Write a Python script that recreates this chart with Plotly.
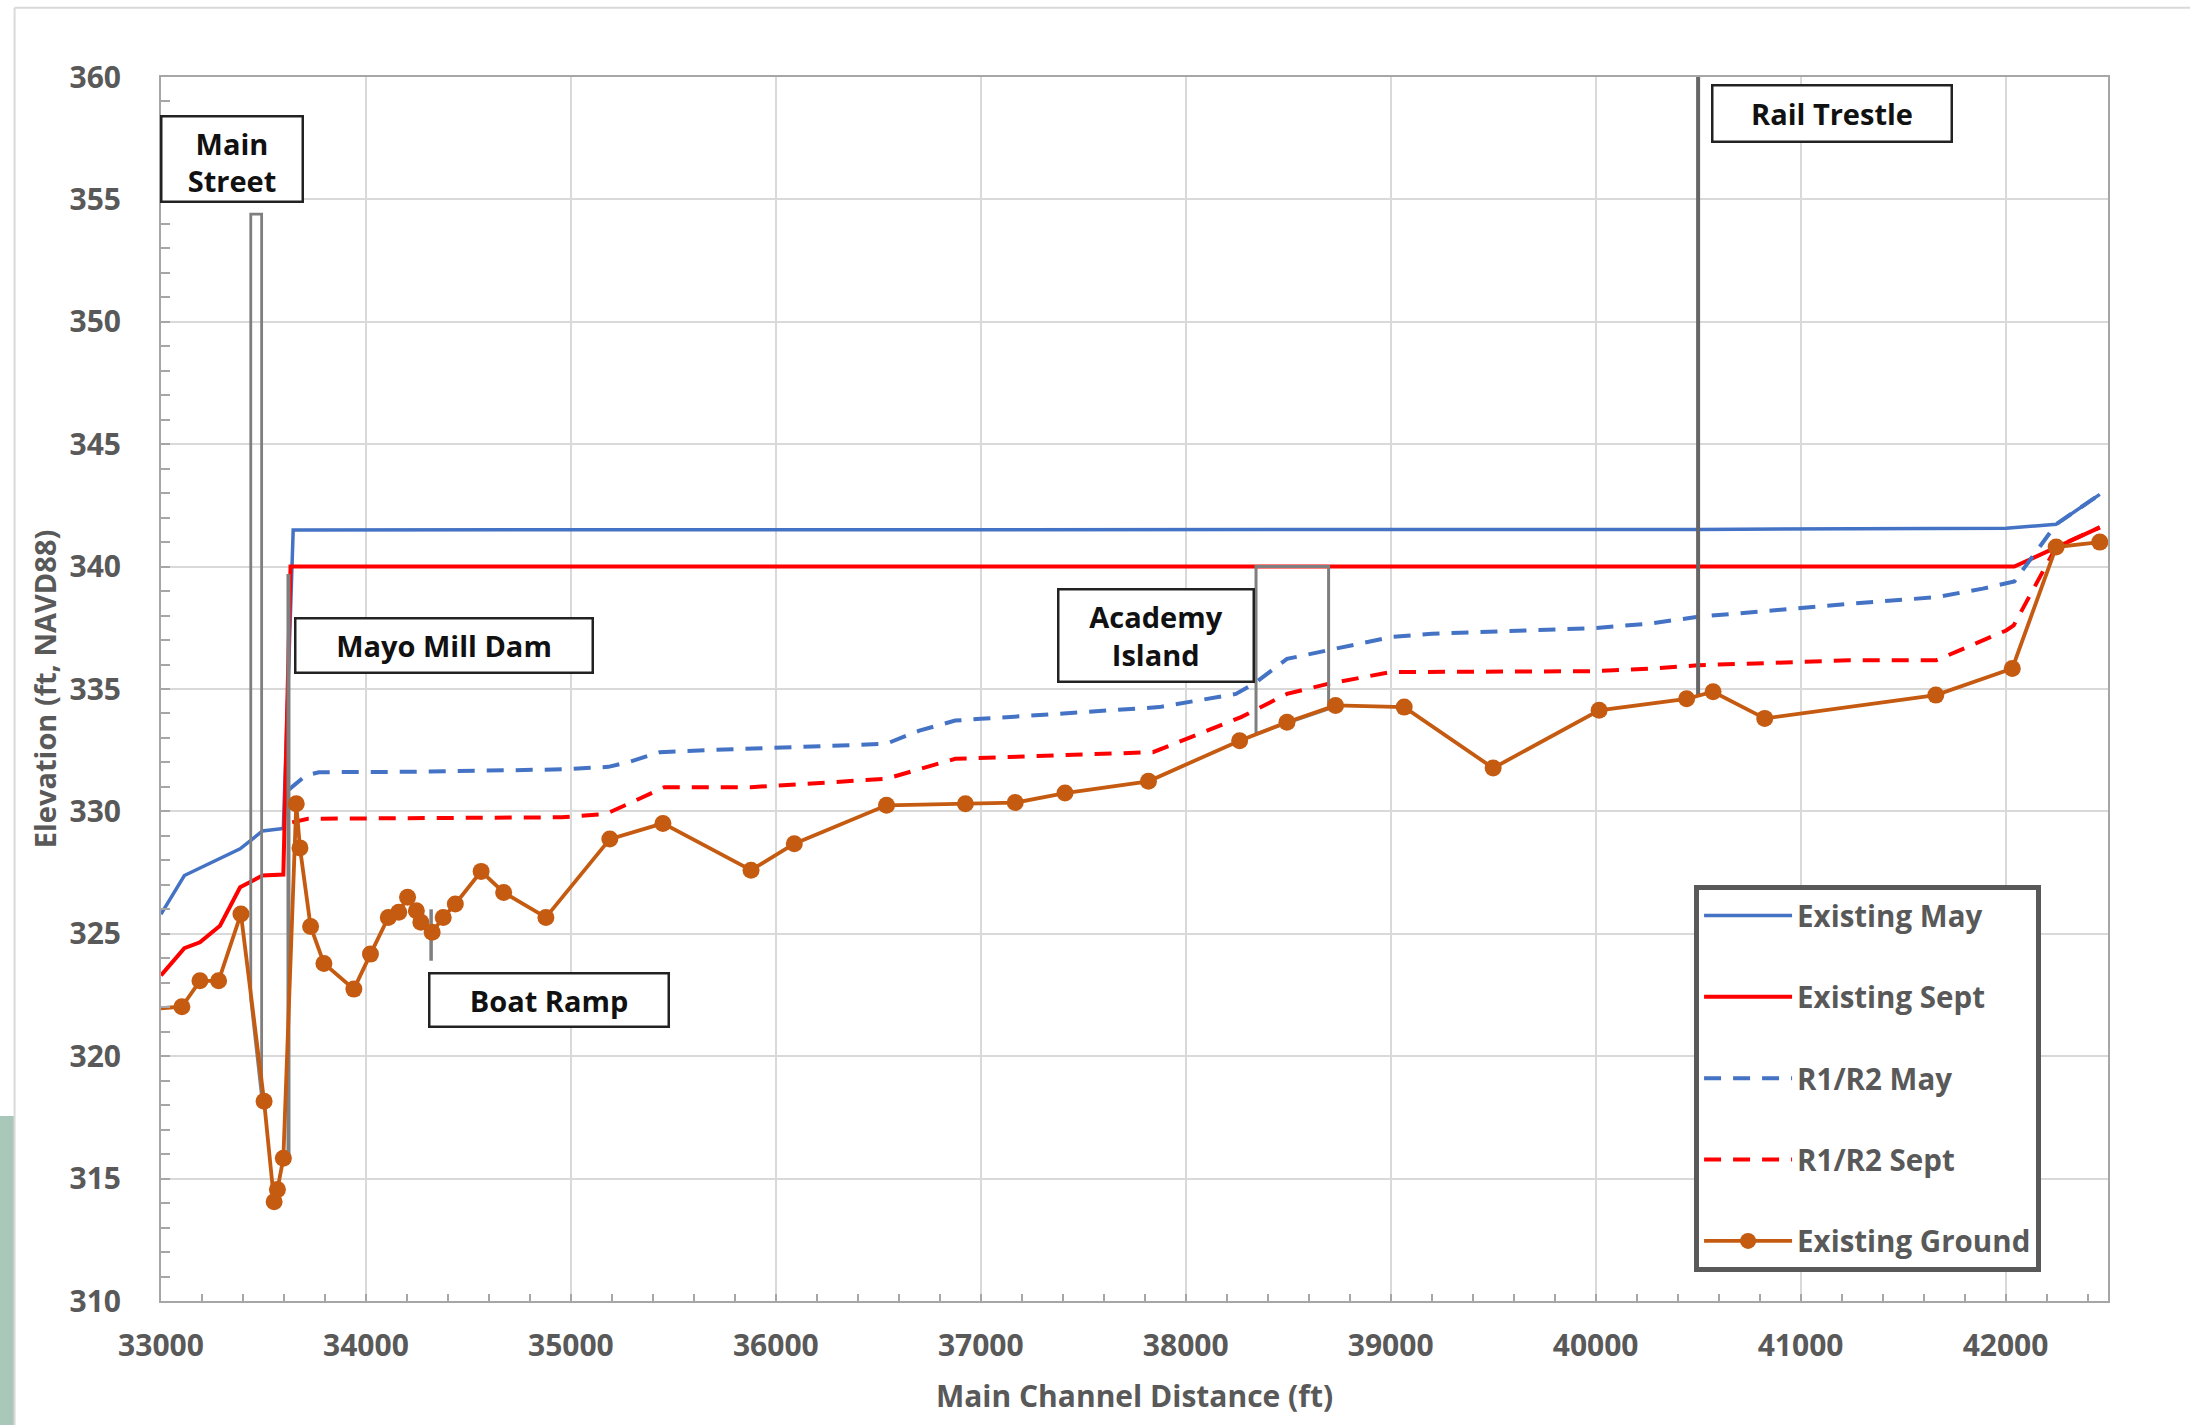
import plotly.graph_objects as go

# ---------------------------------------------------------------
# Profile data: main channel stationing (ft) vs elevation (ft, NAVD88)
# ---------------------------------------------------------------
existing_may_x = [33000, 33114, 33386, 33495, 33597, 33645, 40500, 41700, 42003, 42247, 42460]
existing_may_y = [325.8, 327.38, 328.47, 329.2, 329.3, 341.5, 341.52, 341.55, 341.57, 341.73, 342.95]

existing_sept_x = [33000, 33114, 33190, 33288, 33386, 33495, 33597, 33632, 42043, 42247, 42460]
existing_sept_y = [323.3, 324.41, 324.65, 325.33, 326.9, 327.38, 327.42, 340.0, 340.0, 340.8, 341.6]

r1r2_may_x = [33625, 33706, 33771, 34259, 34976, 35183, 35281, 35434, 35626, 36538, 36700,
              36875, 37000, 37871, 38245, 38332, 38494, 38718, 39000, 39201, 40000, 40262,
              40500, 41238, 41498, 41661, 41889, 42043, 42247, 42460]
r1r2_may_y = [330.9, 331.46, 331.6, 331.62, 331.72, 331.82, 332.01, 332.42, 332.49, 332.76, 333.3,
              333.71, 333.78, 334.26, 334.8, 335.21, 336.23, 336.64, 337.12, 337.26, 337.49, 337.67,
              337.95, 338.48, 338.66, 338.75, 339.1, 339.39, 341.73, 342.95]

r1r2_sept_x = [33640, 33717, 34954, 35172, 35281, 35456, 35879, 36539, 36875, 37840, 38270,
               38494, 38693, 39000, 40000, 40262, 40500, 41238, 41661, 42003, 42040, 42247, 42460]
r1r2_sept_y = [329.55, 329.7, 329.76, 329.9, 330.31, 330.99, 330.99, 331.33, 332.15, 332.42, 333.85,
               334.8, 335.21, 335.69, 335.73, 335.83, 335.97, 336.17, 336.17, 337.39, 337.6, 340.8, 341.6]

ground_x = [32900, 33102, 33190, 33281, 33390, 33503, 33552, 33568, 33597, 33660, 33678,
            33730, 33795, 33941, 34022, 34109, 34160, 34203, 34246, 34268, 34323, 34377,
            34436, 34562, 34672, 34878, 35190, 35449, 35879, 36090, 36540, 36925, 37168,
            37411, 37818, 38263, 38494, 38731, 39066, 39500, 40017, 40444, 40573, 40825,
            41660, 42033, 42247, 42460]
ground_y = [321.9, 322.02, 323.08, 323.08, 325.81, 318.16, 314.05, 314.55, 315.83, 330.31, 328.51,
            325.3, 323.79, 322.74, 324.17, 325.67, 325.88, 326.49, 325.94, 325.47, 325.06, 325.67,
            326.22, 327.55, 326.69, 325.67, 328.87, 329.51, 327.6, 328.68, 330.25, 330.31, 330.36,
            330.75, 331.23, 332.89, 333.64, 334.33, 334.26, 331.77, 334.13, 334.6, 334.89, 333.8,
            334.75, 335.84, 340.8, 341.0]

# Structures along the reach (outlines in station / elevation)
main_street_x = [33438, 33438, 33491, 33491, 33438]
main_street_y = [322.3, 354.4, 354.4, 318.3, 322.3]
dam_x = [33622, 33622]
dam_y = [315.8, 339.7]
boat_ramp_x = [34318, 34318]
boat_ramp_y = [323.9, 326.0]
academy_x = [38343, 38343, 38697, 38697, 38343]
academy_y = [333.17, 340.0, 340.0, 334.19, 333.17]
trestle_x = [40500, 40500]
trestle_y = [334.7, 360.0]

# Callout labels: text, station, elevation, box width/height (px), text alignment
label_text = ["Main<br>Street", "Mayo Mill Dam", "Boat Ramp", "Academy<br>Island", "Rail Trestle"]
label_x = [33345, 34381, 34892, 37857, 41153]
label_y = [356.64, 336.78, 322.28, 337.19, 358.5]
label_w = [144, 300, 242, 198, 242]
label_h = [88, 57, 56, 95, 59]
label_valign = ["bottom", "middle", "middle", "middle", "middle"]

x_ticks = list(range(33000, 42001, 1000))
y_ticks = list(range(310, 361, 5))

FONT = "Open Sans, sans-serif"
GREY_TXT = "#595959"
BLUE = "#4472C4"
RED = "#FF0000"
ORANGE = "#C55A11"
STRUCT = "#7f7f7f"
DASH = "17px,12px"

fig = go.Figure()

fig.add_trace(go.Scatter(x=existing_may_x, y=existing_may_y, mode="lines", name="Existing May",
                         legendgroup="a", line=dict(color=BLUE, width=3.5)))
fig.add_trace(go.Scatter(x=existing_sept_x, y=existing_sept_y, mode="lines", name="Existing Sept",
                         legendgroup="b", line=dict(color=RED, width=4)))
fig.add_trace(go.Scatter(x=r1r2_may_x, y=r1r2_may_y, mode="lines", name="R1/R2 May",
                         legendgroup="c", line=dict(color=BLUE, width=4, dash=DASH)))
fig.add_trace(go.Scatter(x=r1r2_sept_x, y=r1r2_sept_y, mode="lines", name="R1/R2 Sept",
                         legendgroup="d", line=dict(color=RED, width=4, dash=DASH)))

# structure outlines
for sx, sy, col, w in [
    (main_street_x, main_street_y, STRUCT, 2.8),
    (dam_x, dam_y, STRUCT, 4),
    (boat_ramp_x, boat_ramp_y, STRUCT, 3.5),
    (academy_x, academy_y, STRUCT, 3),
    (trestle_x, trestle_y, "#666666", 4),
]:
    fig.add_trace(go.Scatter(x=sx, y=sy, mode="lines", showlegend=False, hoverinfo="skip",
                             line=dict(color=col, width=w)))

fig.add_trace(go.Scatter(x=ground_x, y=ground_y, mode="lines+markers", name="Existing Ground",
                         legendgroup="e", line=dict(color=ORANGE, width=3.8),
                         marker=dict(color=ORANGE, size=17)))

# callout boxes
for t, x, y, w, h, va in zip(label_text, label_x, label_y, label_w, label_h, label_valign):
    fig.add_annotation(x=x, y=y, xref="x", yref="y", text=t, showarrow=False,
                       xanchor="center", yanchor="middle", align="center", valign=va,
                       width=w - 5, height=h - 5, borderpad=0, borderwidth=2.5,
                       bordercolor="#222222", bgcolor="white",
                       font=dict(family=FONT, size=29, color="#111111", weight="bold"))

# page decoration: outer chart frame and coloured strip on the left edge
shapes = [
    dict(type="rect", xref="paper", yref="paper", x0=-0.0827, x1=-0.0752, y0=-0.102, y1=0.1512,
         fillcolor="#aac8b9", line=dict(width=0), layer="below"),
    dict(type="line", xref="paper", yref="paper", x0=-0.0752, x1=-0.0752, y0=-0.102, y1=1.0566,
         line=dict(color="#d9d9d9", width=2)),
    dict(type="line", xref="paper", yref="paper", x0=-0.0752, x1=1.05, y0=1.0566, y1=1.0566,
         line=dict(color="#d9d9d9", width=2)),
]

axis_common = dict(
    showgrid=True, gridcolor="#d9d9d9", gridwidth=2,
    showline=True, linecolor="#a6a6a6", linewidth=2, mirror=True,
    ticks="inside", tickcolor="#a6a6a6", tickwidth=2,
    tickfont=dict(family=FONT, size=30, color=GREY_TXT, weight="bold"),
    zeroline=False,
)

fig.update_layout(
    width=2190, height=1425,
    margin=dict(l=161, r=82, t=77, b=124),
    paper_bgcolor="white", plot_bgcolor="white",
    font=dict(family=FONT, color=GREY_TXT),
    showlegend=True,
    legend=dict(
        x=0.7874, y=0.3400, xanchor="left", yanchor="top",
        bgcolor="white", bordercolor="#595959", borderwidth=5,
        font=dict(family=FONT, size=29.5, color=GREY_TXT, weight="bold"),
        itemwidth=88, traceorder="grouped", tracegroupgap=40,
    ),
    shapes=shapes,
    xaxis=dict(
        range=[33000, 42500], tickvals=x_ticks, ticktext=[str(v) for v in x_ticks],
        ticklen=7, ticklabelstandoff=17,
        minor=dict(dtick=200, ticks="inside", ticklen=7, tickcolor="#a6a6a6", tickwidth=2, showgrid=False),
        title=dict(text="Main Channel Distance (ft)", standoff=22,
                   font=dict(family=FONT, size=30, color=GREY_TXT, weight="bold")),
        **axis_common,
    ),
    yaxis=dict(
        range=[310, 360], tickvals=y_ticks, ticktext=[str(v) for v in y_ticks],
        ticklen=9, ticklabelstandoff=32,
        minor=dict(dtick=1, ticks="inside", ticklen=9, tickcolor="#a6a6a6", tickwidth=2, showgrid=False),
        title=dict(text="Elevation (ft, NAVD88)", standoff=4,
                   font=dict(family=FONT, size=29, color=GREY_TXT, weight="bold")),
        **axis_common,
    ),
)

fig.write_html("out.html")
